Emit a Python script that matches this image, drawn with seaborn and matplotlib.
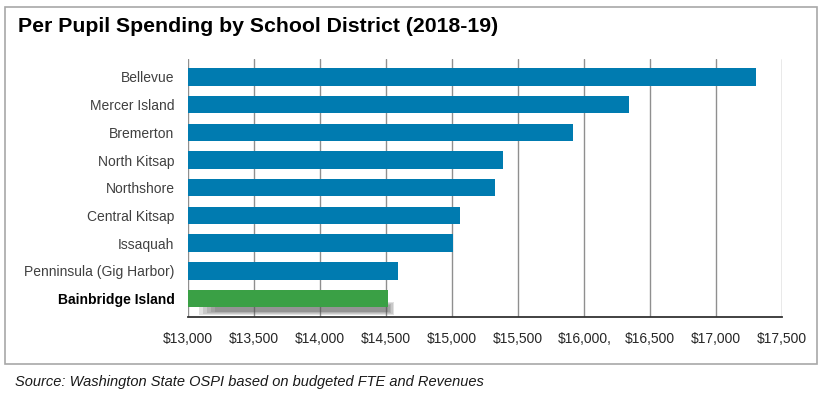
import matplotlib
matplotlib.use("Agg")
import matplotlib.pyplot as plt
from matplotlib.patches import Rectangle
import seaborn as sns
import pandas as pd

# data
districts = ["Bellevue", "Mercer Island", "Bremerton", "North Kitsap", "Northshore",
             "Central Kitsap", "Issaquah", "Penninsula (Gig Harbor)", "Bainbridge Island"]
spending = [17300, 16335, 15915, 15385, 15320, 15060, 15005, 14590, 14510]
highlight = "Bainbridge Island"
x_ticks = [13000, 13500, 14000, 14500, 15000, 15500, 16000, 16500, 17000, 17500]
x_labels = ["$13,000", "$13,500", "$14,000", "$14,500", "$15,000", "$15,500",
            "$16,000,", "$16,500", "$17,000", "$17,500"]

blue = "#007BB0"
green = "#3AA045"

sns.set_theme(style="white")
plt.rcParams["font.family"] = ["Liberation Sans", "DejaVu Sans"]

df = pd.DataFrame({"district": districts, "spending": spending})
df["group"] = ["hl" if d == highlight else "other" for d in districts]

fig = plt.figure(figsize=(8.25, 3.95), dpi=100)
fig.patch.set_facecolor("white")
ax = fig.add_axes([0.2283, 0.1987, 0.72, 0.652])

sns.barplot(data=df, y="district", x="spending", hue="group", orient="h",
            palette={"other": blue, "hl": green}, width=0.63, legend=False,
            saturation=1, ax=ax, zorder=3, linewidth=0)

# soft drop shadow under the highlighted bar
hi = districts.index(highlight)
hv = spending[hi]
for k in range(5):
    left = 13000 + 80 + k * 30
    right = hv + 50 - k * 12
    ax.barh(hi + 0.36, right - left, height=0.46 - k * 0.06, left=left,
            color="#505050", alpha=0.17, zorder=2, linewidth=0)

ax.set_xlim(13000, 17500)
ax.set_ylim(8.65, -0.65)
ax.set_xticks(x_ticks)
ax.set_xticklabels(x_labels)
for t in ax.get_xticklabels():
    t.set_fontsize(10)
    t.set_color("#262626")
ax.tick_params(axis="x", length=0, pad=11)
ax.tick_params(axis="y", length=0, pad=10)
for t in ax.get_yticklabels():
    t.set_fontsize(10)
    if t.get_text() == highlight:
        t.set_fontweight("bold")
        t.set_color("black")
    else:
        t.set_color("#404040")
ax.set_xlabel("")
ax.set_ylabel("")

ax.grid(axis="x", color="#8f8f8f", linewidth=1, zorder=1)
ax.grid(axis="y", visible=False)
for s in ["top", "right", "left"]:
    ax.spines[s].set_visible(False)
ax.spines["bottom"].set_color("#333333")
ax.spines["bottom"].set_linewidth(1.3)

# outer frame
fig.patches.append(Rectangle((5 / 825, 31 / 395), 812 / 825, 357 / 395, transform=fig.transFigure,
                             fill=False, edgecolor="#a8a8a8", linewidth=1.2))

fig.text(18 / 825, 1 - 32 / 395, "Per Pupil Spending by School District (2018-19)",
         fontsize=15.3, fontweight="bold", color="black", va="baseline")
fig.text(15 / 825, 1 - 386 / 395, "Source: Washington State OSPI based on budgeted FTE and Revenues",
         fontsize=10.5, style="italic", color="#1a1a1a", va="baseline")

fig.savefig("out.png", dpi=100)
